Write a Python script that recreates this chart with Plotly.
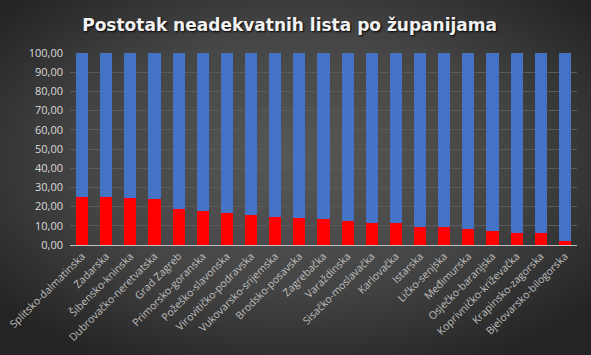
import base64
import plotly.graph_objects as go

categories = [
    "Splitsko-dalmatinska", "Zadarska", "Šibensko-kninska", "Dubrovačko-neretvatska",
    "Grad Zagreb", "Primorsko-goranska", "Požeško-slavonska", "Virovitičko-podravska",
    "Vukovarsko-srijemska", "Brodsko-posavska", "Zagrebačka", "Varaždinska",
    "Sisačko-moslavačka", "Karlovačka", "Istarska", "Ličko-senjska", "Međimurska",
    "Osječko-baranjska", "Koprivničko-križevačka", "Krapinsko-zagorska",
    "Bjelovarsko-bilogorska",
]
neadekvatne = [25.2, 25.1, 24.6, 24.1, 18.7, 17.9, 16.8, 15.8, 14.7, 14.3, 13.7,
               12.7, 11.3, 11.3, 9.2, 9.2, 8.5, 7.1, 6.4, 6.0, 1.9]
adekvatne = [round(100 - v, 2) for v in neadekvatne]
y_ticks = [0, 10, 20, 30, 40, 50, 60, 70, 80, 90, 100]
y_tick_labels = [f"{v:.2f}".replace(".", ",") for v in y_ticks]
title_text = "Postotak neadekvatnih lista po županijama"

W, H = 591, 355
ML, MR, MT, MB = 70, 14, 53, 110
PW, PH = W - ML - MR, H - MT - MB

svg = f"""<svg xmlns='http://www.w3.org/2000/svg' width='{W}' height='{H}' preserveAspectRatio='none'>
<defs><radialGradient id='g' cx='50%' cy='45%' r='65%'>
<stop offset='0%' stop-color='#575757'/>
<stop offset='55%' stop-color='#454545'/>
<stop offset='100%' stop-color='#242424'/>
</radialGradient></defs>
<rect width='{W}' height='{H}' fill='url(#g)'/></svg>"""
bg_uri = "data:image/svg+xml;base64," + base64.b64encode(svg.encode()).decode()

fig = go.Figure()
fig.add_trace(go.Bar(x=categories, y=neadekvatne, marker=dict(color="#ff0000", line_width=0),
                     name="neadekvatne"))
fig.add_trace(go.Bar(x=categories, y=adekvatne, marker=dict(color="#4472c4", line_width=0),
                     name="adekvatne"))

fig.update_layout(
    width=W, height=H,
    barmode="stack", bargap=0.5,
    showlegend=False,
    paper_bgcolor="#333333", plot_bgcolor="rgba(0,0,0,0)",
    margin=dict(l=ML, r=MR, t=MT, b=MB, autoexpand=False),
    title=dict(text=title_text, x=0.49, xanchor="center", yref="container",
               y=1 - 25 / H, yanchor="middle",
               font=dict(family="DejaVu Sans", size=17, color="#f2f2f2",
                         weight="bold", shadow="1px 1px 2px #000")),
    images=[dict(source=bg_uri, xref="paper", yref="paper",
                 x=-ML / PW, y=1 + MT / PH, sizex=W / PW, sizey=H / PH,
                 xanchor="left", yanchor="top", layer="below", sizing="stretch")],
    font=dict(family="Open Sans", color="#d9d9d9", size=11),
)

fig.update_xaxes(tickangle=-45, showgrid=False, showline=True, linecolor="#bfbfbf",
                 linewidth=1, ticks="", automargin=False,
                 tickfont=dict(color="#bfbfbf", size=10.5, family="Open Sans"))
fig.update_yaxes(range=[0, 100], tickvals=y_ticks, ticktext=y_tick_labels,
                 showgrid=True, gridcolor="#5a5a5a", gridwidth=1, zeroline=False,
                 showline=False, automargin=False,
                 tickfont=dict(color="#d9d9d9", size=11, family="Open Sans"),
                 ticks="", ticklabelstandoff=6)

fig.write_html("out.html", config={"displayModeBar": False},
               post_script="document.body.style.margin='0';document.body.style.overflow='hidden';")
